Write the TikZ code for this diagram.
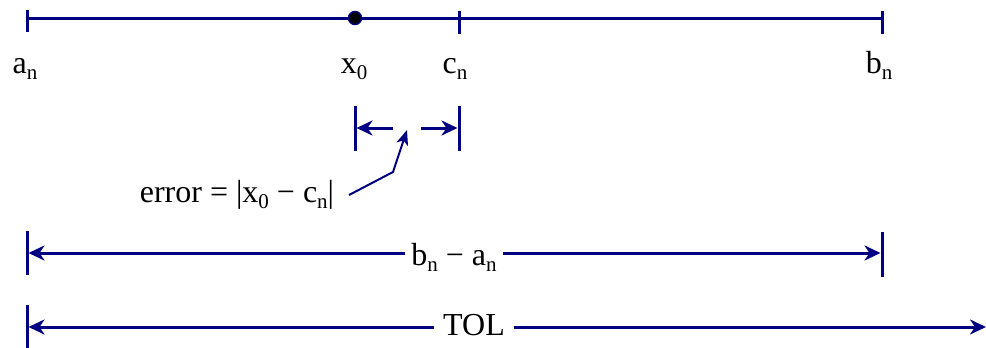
\documentclass[tikz,border=0pt]{standalone}
\usepackage{fontspec}
\setmainfont{Liberation Serif}
\usetikzlibrary{arrows.meta}
\definecolor{navy}{RGB}{0,0,128}
\newcommand\subs[1]{\raisebox{-0.2em}{\fontsize{21}{21}\selectfont #1}}
\begin{document}
\begin{tikzpicture}[x=1pt,y=-1pt,
  axis/.style={draw=navy,line width=3pt},
  tickmark/.style={draw=navy,line width=3pt},
  dimarrow/.style={draw=navy,line width=3pt,-{Stealth[length=16pt,width=15pt,inset=5pt]}},
  pointer/.style={draw=navy,line width=2pt,-{Stealth[length=15pt,width=12pt,inset=4pt]}},
  lab/.style={font=\fontsize{32}{32}\selectfont,inner sep=0pt,anchor=base},
  gaplab/.style={lab,inner xsep=6pt}]
\useasboundingbox (0,0) rectangle (986,348);
% top axis
\coordinate (A) at (27,18);
\coordinate (X) at (355,18);
\coordinate (C) at (459,18);
\coordinate (B) at (882,18);
\draw[axis] (A) -- (B);
\draw[tickmark] (27,10) -- (27,32);
\draw[tickmark] (459,11) -- (459,34);
\draw[tickmark] (882,11) -- (882,34);
\fill[black,draw=navy,line width=1.5pt] (X) circle (6.5pt);
\node[lab] (an) at (25,73) {a\subs{n}};
\node[lab] (x0) at (354,73) {x\subs{0}};
\node[lab] (cn) at (455,73) {c\subs{n}};
\node[lab] (bn) at (879,73) {b\subs{n}};
% error bracket
\coordinate (EL) at (355,128);
\coordinate (ER) at (459,128);
\draw[tickmark] (355,106) -- (355,151);
\draw[tickmark] (459,106) -- (459,151);
\coordinate (ELs) at (393,128);
\coordinate (ERs) at (421,128);
\draw[dimarrow] (ELs) -- ([xshift=1.5pt]EL);
\draw[dimarrow] (ERs) -- ([xshift=-1.5pt]ER);
\node[lab] (err) at (237,202) {error = |x\subs{0} − c\subs{n}|};
\coordinate (P0) at (349,195);
\coordinate (P1) at (393,172);
\coordinate (P2) at (407,130);
\draw[pointer] (P0) -- (P1) -- (P2);
% b_n - a_n
\coordinate (L3) at (27,253);
\coordinate (R3) at (882,253);
\draw[tickmark] (27,231) -- (27,275);
\draw[tickmark] (882,232) -- (882,277);
\node[gaplab] (bma) at (454,265) {b\subs{n} − a\subs{n}};
\draw[dimarrow] (bma.west |- L3) -- ([xshift=1.5pt]L3);
\draw[dimarrow] (bma.east |- R3) -- ([xshift=-1.5pt]R3);
% TOL
\coordinate (L4) at (27,327);
\coordinate (R4) at (986,327);
\draw[tickmark] (27,305) -- (27,348);
\node[gaplab,inner xsep=9pt] (tol) at (474,335) {TOL};
\draw[dimarrow] (tol.west |- L4) -- ([xshift=1.5pt]L4);
\draw[dimarrow] (tol.east |- R4) -- (R4);
\end{tikzpicture}
\end{document}
